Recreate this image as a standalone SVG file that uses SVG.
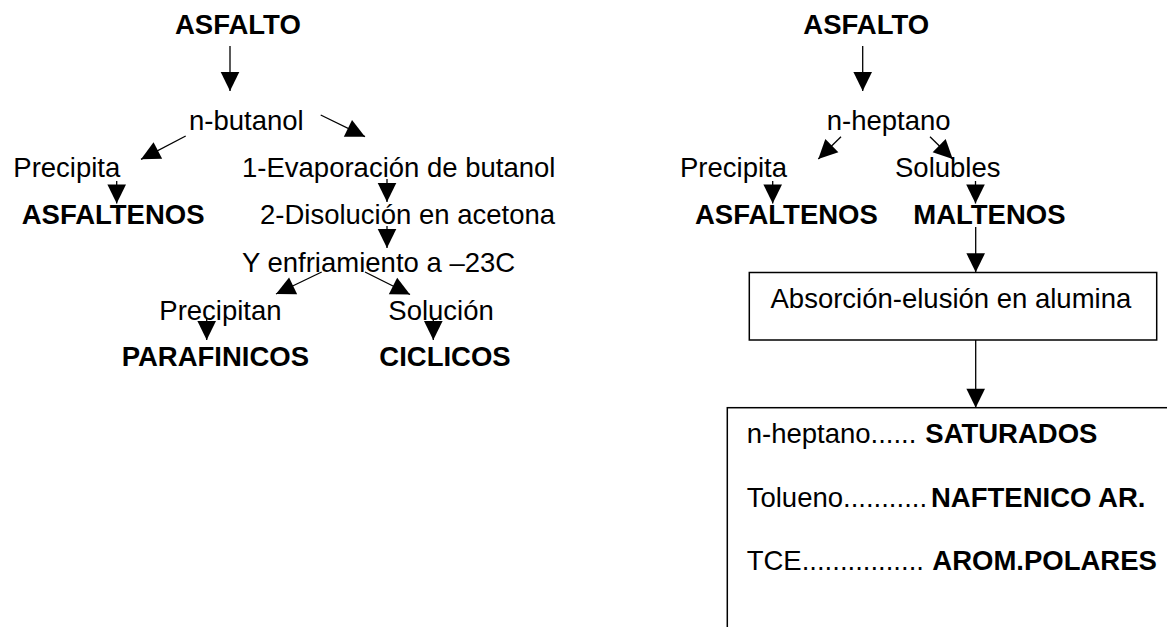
<svg xmlns="http://www.w3.org/2000/svg" width="1167" height="627" viewBox="0 0 1167 627">
<style>
text{font-family:"Liberation Sans",Arial,sans-serif;font-size:27.5px;fill:#000}
.b{font-weight:bold}
.c{stroke:#000;stroke-width:1.3;fill:none;marker-end:url(#ah)}
.box{fill:#fff;stroke:#000;stroke-width:1.5}
</style>
<defs>
<marker id="ah" markerUnits="userSpaceOnUse" markerWidth="19" markerHeight="18.6" refX="19" refY="9.3" orient="auto" overflow="visible">
<path d="M0,0 L19,9.3 L0,18.6 z" fill="#000"/>
</marker>
</defs>
<rect width="1167" height="627" fill="#fff"/>
<g id="connectors">
<line class="c" x1="230" y1="46" x2="230" y2="91"/>
<line class="c" x1="185.7" y1="136" x2="141" y2="159.3"/>
<line class="c" x1="320.7" y1="115" x2="365" y2="136.7"/>
<line class="c" x1="116.7" y1="181" x2="116.7" y2="203.5"/>
<line class="c" x1="387" y1="179" x2="387" y2="202"/>
<line class="c" x1="387" y1="226" x2="387" y2="248"/>
<line class="c" x1="321.7" y1="272" x2="276" y2="294"/>
<line class="c" x1="365" y1="272" x2="410" y2="294.5"/>
<line class="c" x1="206.7" y1="318" x2="206.7" y2="340"/>
<line class="c" x1="433.3" y1="318" x2="433.3" y2="340"/>
<line class="c" x1="862.7" y1="46" x2="862.7" y2="91"/>
<line class="c" x1="841" y1="136.7" x2="818.3" y2="159"/>
<line class="c" x1="930" y1="136.7" x2="952.7" y2="159"/>
<line class="c" x1="772.7" y1="181" x2="772.7" y2="203.5"/>
<line class="c" x1="975.5" y1="181" x2="975.5" y2="203.5"/>
<line class="c" x1="975.7" y1="227" x2="975.7" y2="272.3"/>
<line class="c" x1="975.7" y1="340" x2="975.7" y2="407.7"/>
</g>
<g id="left-asfalto"><text class="b" x="175" y="34">ASFALTO</text></g>
<g id="left-butanol"><text x="189" y="130">n-butanol</text></g>
<g id="left-precipita"><text x="13.3" y="177">Precipita</text></g>
<g id="left-asfaltenos"><text class="b" x="21.7" y="224">ASFALTENOS</text></g>
<g id="left-evap"><text x="242" y="177">1-Evaporación de butanol</text></g>
<g id="left-disol"><text x="260" y="224">2-Disolución en acetona</text></g>
<g id="left-enfr"><text x="242" y="272">Y enfriamiento a –23C</text></g>
<g id="left-precipitan"><text x="159.3" y="320">Precipitan</text></g>
<g id="left-solucion"><text x="388.3" y="320">Solución</text></g>
<g id="left-parafinicos"><text class="b" x="121.7" y="366">PARAFINICOS</text></g>
<g id="left-ciclicos"><text class="b" x="379.3" y="366">CICLICOS</text></g>
<g id="right-asfalto"><text class="b" x="803.3" y="34">ASFALTO</text></g>
<g id="right-heptano"><text x="826.7" y="130">n-heptano</text></g>
<g id="right-precipita"><text x="680" y="177">Precipita</text></g>
<g id="right-solubles"><text x="895" y="177">Solubles</text></g>
<g id="right-asfaltenos"><text class="b" x="695" y="224">ASFALTENOS</text></g>
<g id="right-maltenos"><text class="b" x="913.3" y="224">MALTENOS</text></g>
<g id="right-absorcion">
<rect class="box" x="749.3" y="272.5" width="407.4" height="67.5"/>
<text x="770.5" y="308.3">Absorción-elusión en alumina</text>
</g>
<g id="right-fracciones">
<rect class="box" x="727.3" y="407.7" width="500" height="300"/>
<text x="746.7" y="443.3">n-heptano...... <tspan class="b" x="925.3">SATURADOS</tspan></text>
<text x="746.7" y="506.7">Tolueno...........<tspan class="b" x="931">NAFTENICO AR.</tspan></text>
<text x="746.7" y="570">TCE................ <tspan class="b" x="932.3">AROM.POLARES</tspan></text>
</g>
</svg>
